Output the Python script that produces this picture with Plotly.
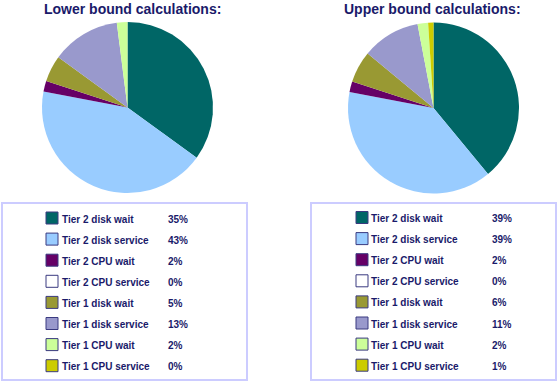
import plotly.graph_objects as go

W, H = 558, 382

categories = ["Tier 2 disk wait", "Tier 2 disk service", "Tier 2 CPU wait", "Tier 2 CPU service",
              "Tier 1 disk wait", "Tier 1 disk service", "Tier 1 CPU wait", "Tier 1 CPU service"]
lower_values = [35, 43, 2, 0, 5, 13, 2, 0]
upper_values = [39, 39, 2, 0, 6, 11, 2, 1]
colors = ["#006666", "#99ccff", "#660066", "#ffffff", "#999933", "#9999cc", "#ccff99", "#cccc00"]
titles = ["Lower bound calculations:", "Upper bound calculations:"]

TEXT_COLOR = "#1a1a6a"
FONT = "Arial, Liberation Sans, sans-serif"


def px(x):
    return x / W


def py(y):
    return 1 - y / H


fig = go.Figure()

panels = [
    dict(values=lower_values, pie_x=(42, 213), pie_y=(22, 193), title_x=132,
         box=(2, 203, 247, 380), sw_x=46, lab_x=60, pct_x=166, row0=218),
    dict(values=upper_values, pie_x=(348, 519), pie_y=(22.5, 193.5), title_x=432,
         box=(311, 203, 556, 380), sw_x=356, lab_x=369, pct_x=490, row0=217.5),
]

shapes = []
annotations = []
ROW = 21.1

for title, p in zip(titles, panels):
    fig.add_trace(go.Pie(
        labels=categories, values=p["values"], sort=False, direction="clockwise", rotation=0,
        marker=dict(colors=colors, line=dict(width=0)), textinfo="none", hoverinfo="label+percent",
        domain=dict(x=[px(p["pie_x"][0]), px(p["pie_x"][1])],
                    y=[py(p["pie_y"][1]), py(p["pie_y"][0])]),
        showlegend=False,
    ))
    annotations.append(dict(text=title, x=px(p["title_x"]), y=py(9), xref="paper", yref="paper",
                            showarrow=False, xanchor="center", yanchor="middle",
                            font=dict(family=FONT, size=14, color=TEXT_COLOR, weight="bold")))
    bx0, by0, bx1, by1 = p["box"]
    shapes.append(dict(type="rect", xref="paper", yref="paper", x0=px(bx0), x1=px(bx1),
                       y0=py(by1), y1=py(by0), line=dict(color="#ccccff", width=2),
                       fillcolor="rgba(0,0,0,0)", layer="above"))
    for i, (cat, val, col) in enumerate(zip(categories, p["values"], colors)):
        cy = p["row0"] + i * ROW
        shapes.append(dict(type="rect", xref="paper", yref="paper",
                           x0=px(p["sw_x"]), x1=px(p["sw_x"] + 12),
                           y0=py(cy + 6), y1=py(cy - 6),
                           fillcolor=col, line=dict(color="#3a3a80", width=1), layer="above"))
        annotations.append(dict(text=cat, x=px(p["lab_x"]), y=py(cy + 1), xref="paper", yref="paper",
                                showarrow=False, xanchor="left", yanchor="middle",
                                font=dict(family=FONT, size=10, color=TEXT_COLOR, weight="bold")))
        annotations.append(dict(text=f"{val}%", x=px(p["pct_x"]), y=py(cy + 1), xref="paper", yref="paper",
                                showarrow=False, xanchor="left", yanchor="middle",
                                font=dict(family=FONT, size=10, color=TEXT_COLOR, weight="bold")))

fig.update_layout(
    width=W, height=H, margin=dict(l=0, r=0, t=0, b=0),
    paper_bgcolor="white", plot_bgcolor="white",
    shapes=shapes, annotations=annotations,
)

fig.write_html("out.html", config={"displayModeBar": False},
               post_script="document.body.style.margin='0';document.body.style.overflow='hidden';")
